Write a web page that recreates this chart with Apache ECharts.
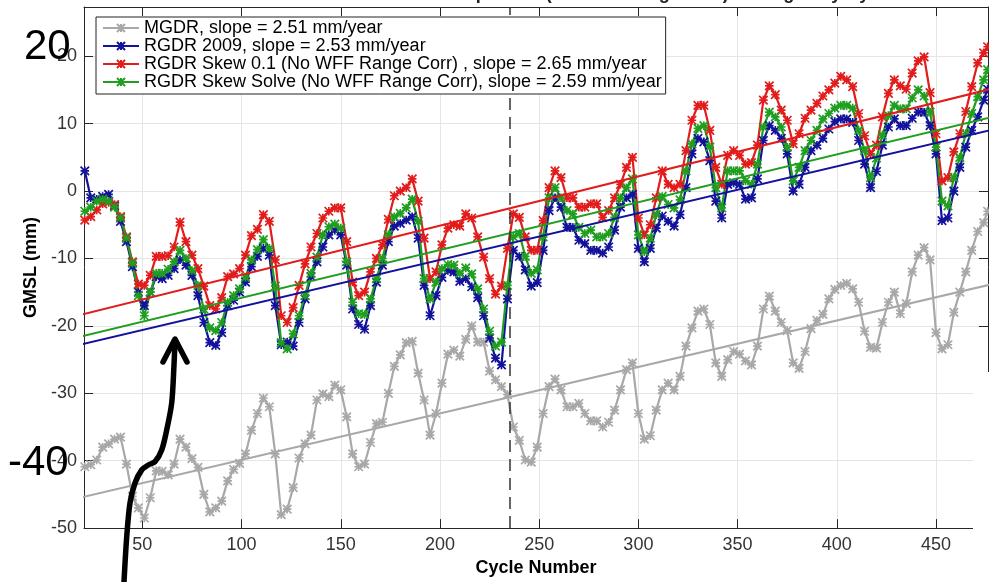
<!DOCTYPE html>
<html><head><meta charset="utf-8">
<script src="https://cdn.jsdelivr.net/npm/echarts@6/dist/echarts.min.js"></script>
<style>html,body{margin:0;padding:0;background:#fff}#c{width:989px;height:582px}</style>
</head><body><div id="c"></div>
<script>
const cycles = [21,24,27,30,33,36,39,42,45,48,51,54,57,60,63,66,69,72,75,78,81,84,87,90,93,96,99,102,105,108,111,114,117,120,123,126,129,132,135,138,141,144,147,150,153,156,159,162,165,168,171,174,177,180,183,186,189,192,195,198,201,204,207,210,213,216,219,222,225,228,231,234,237,240,243,246,249,252,255,258,261,264,267,270,273,276,279,282,285,288,291,294,297,300,303,306,309,312,315,318,321,324,327,330,333,336,339,342,345,348,351,354,357,360,363,366,369,372,375,378,381,384,387,390,393,396,399,402,405,408,411,414,417,420,423,426,429,432,435,438,441,444,447,450,453,456,459,462,465,468,471,474,476];
const mgdr = [-40.9,-40.6,-39.9,-38.0,-37.5,-36.8,-36.5,-40.5,-45.3,-47.0,-48.5,-45.5,-41.5,-41.6,-42.1,-40.5,-36.8,-38.0,-39.7,-41.0,-45.0,-47.6,-47.0,-46.0,-43.0,-41.3,-40.4,-39.0,-35.5,-33.0,-30.7,-32.0,-39.0,-48.0,-47.2,-44.0,-39.6,-37.5,-36.2,-31.0,-30.1,-30.5,-28.8,-29.5,-33.5,-39.0,-40.9,-40.5,-37.3,-34.5,-34.3,-30.0,-26.0,-24.3,-22.5,-22.3,-27.0,-31.0,-36.2,-33.0,-28.5,-24.2,-23.6,-24.5,-22.0,-20.0,-22.4,-22.4,-26.7,-28.0,-29.0,-30.2,-35.0,-37.0,-39.9,-40.2,-38.0,-33.0,-29.0,-27.9,-29.5,-32.0,-32.0,-31.5,-33.0,-34.1,-34.1,-35.0,-34.3,-32.5,-29.5,-26.5,-25.5,-33.0,-36.8,-36.3,-32.5,-29.5,-28.5,-29.5,-27.5,-23.0,-20.3,-17.8,-17.5,-19.8,-25.5,-27.5,-25.0,-23.8,-24.2,-25.2,-25.8,-23.0,-17.5,-15.6,-17.8,-19.5,-20.7,-25.5,-26.3,-23.8,-20.4,-19.2,-18.3,-16.0,-14.6,-14.0,-13.7,-14.5,-16.5,-20.8,-23.2,-23.3,-19.5,-16.5,-15.0,-18.2,-16.7,-12.0,-9.5,-8.4,-10.2,-21.0,-23.4,-22.8,-18.0,-15.0,-12.0,-8.8,-6.0,-4.7,-3.0];
const rgdr2009 = [3.0,-1.0,-1.2,-0.8,-0.5,-2.2,-4.5,-7.5,-11.2,-15.0,-17.0,-15.0,-12.7,-13.0,-12.5,-11.5,-10.2,-11.0,-12.5,-15.5,-19.5,-22.5,-22.9,-21.0,-17.0,-16.2,-15.0,-13.5,-11.2,-9.7,-8.5,-9.5,-17.0,-22.8,-22.4,-23.0,-19.5,-16.0,-12.7,-10.5,-8.3,-6.5,-5.8,-6.5,-11.0,-17.5,-19.8,-20.5,-17.0,-13.5,-11.0,-7.5,-5.2,-4.8,-4.3,-3.8,-7.0,-14.0,-18.5,-15.5,-12.8,-11.8,-12.0,-13.4,-13.0,-14.2,-15.8,-18.5,-21.8,-24.8,-25.8,-16.0,-8.8,-9.7,-11.7,-14.1,-13.6,-8.8,-2.9,-1.0,-2.4,-5.4,-5.4,-7.3,-7.8,-8.8,-8.8,-9.2,-8.3,-5.8,-2.4,-1.0,-0.5,-8.5,-10.5,-8.5,-5.5,-3.7,-4.5,-5.2,-3.5,0.5,5.5,7.8,7.3,4.5,-1.5,-4.0,1.0,1.2,1.0,-1.2,-1.0,1.8,7.5,9.7,9.0,7.8,5.5,0.0,1.0,3.5,6.0,6.8,7.8,9.2,10.3,10.7,10.7,10.2,7.5,4.0,0.5,2.9,6.8,9.5,10.7,9.7,9.7,10.8,11.7,11.7,9.7,5.5,-4.4,-4.0,0.0,3.5,6.5,9.0,11.0,13.5,15.1];
const skew01 = [-4.3,-3.8,-2.8,-1.9,-1.7,-2.0,-3.8,-6.8,-10.5,-13.8,-14.0,-12.5,-9.7,-9.7,-9.6,-8.3,-4.6,-7.5,-9.5,-11.5,-14.1,-17.0,-17.5,-15.8,-12.7,-12.3,-11.5,-9.5,-6.6,-5.7,-3.5,-4.5,-10.2,-18.5,-19.5,-17.3,-14.0,-10.8,-8.3,-6.3,-4.0,-3.0,-2.5,-2.5,-7.5,-13.5,-15.5,-15.0,-12.0,-10.0,-8.0,-4.2,-0.7,0.0,0.5,1.8,-1.5,-7.0,-13.0,-12.0,-8.0,-5.5,-5.0,-5.2,-3.4,-4.0,-6.8,-9.8,-13.0,-15.3,-14.1,-8.5,-3.4,-3.9,-6.8,-8.8,-8.8,-4.4,0.5,3.0,2.0,-1.0,-1.0,-2.4,-2.4,-1.9,-1.9,-3.9,-2.9,-1.0,1.0,3.5,5.0,-4.0,-6.5,-5.0,-1.0,3.0,1.0,0.5,1.0,6.0,10.5,12.7,12.7,9.0,3.5,1.0,5.3,6.0,5.3,4.0,4.2,6.8,13.5,15.6,14.3,12.0,10.5,7.0,8.5,10.8,12.0,13.0,14.1,15.0,16.0,17.0,16.5,15.5,11.5,8.2,5.5,6.8,11.0,14.5,16.5,15.6,15.1,17.5,19.3,19.9,14.6,8.5,1.5,2.0,5.8,8.5,11.8,15.5,19.0,20.5,21.4];
const skewSolve = [-3.0,-2.4,-1.5,-1.2,-1.5,-2.4,-4.0,-7.0,-10.7,-15.5,-18.5,-15.0,-12.2,-12.2,-11.6,-10.5,-8.8,-10.0,-11.8,-14.0,-17.5,-20.3,-20.7,-19.5,-16.5,-15.5,-14.5,-12.8,-10.2,-8.7,-7.2,-8.5,-14.1,-22.5,-23.4,-21.2,-18.5,-15.5,-12.2,-9.8,-6.5,-5.3,-4.9,-5.5,-10.5,-16.5,-18.2,-18.3,-16.0,-13.0,-10.0,-6.5,-3.8,-3.3,-2.5,-1.2,-4.5,-13.0,-16.0,-13.5,-11.5,-10.9,-11.0,-12.2,-11.4,-12.3,-14.5,-17.5,-20.8,-23.0,-22.4,-14.0,-6.8,-6.3,-9.7,-12.2,-11.7,-6.8,-1.0,0.5,-1.0,-2.9,-3.4,-5.4,-6.3,-5.8,-6.8,-6.8,-6.3,-3.9,-1.0,0.5,1.8,-6.5,-9.0,-7.0,-3.5,-0.8,-2.0,-2.5,-1.3,3.0,7.0,9.3,9.7,6.5,0.5,-2.5,3.0,3.0,3.0,1.5,1.0,4.0,9.5,11.7,11.0,9.5,6.5,1.5,3.5,6.0,7.5,9.0,10.7,11.5,12.3,12.7,12.7,12.3,9.0,6.0,2.0,4.9,8.3,11.2,12.7,12.2,12.2,13.8,15.0,14.1,11.7,6.5,-1.5,-2.2,2.0,5.0,8.5,11.5,14.0,16.5,18.0];
const trendCycles = [20, 477];
const trendMgdr = [-45.4, -13.9];
const trendRgdr2009 = [-22.7, 9.0];
const trendSkew01 = [-18.3, 15.1];
const trendSkewSolve = [-21.5, 10.9];
const seriesNames = ['MGDR, slope = 2.51 mm/year','RGDR 2009, slope = 2.53 mm/year','RGDR Skew 0.1 (No WFF Range Corr) , slope = 2.65 mm/year','RGDR Skew Solve (No WFF Range Corr), slope = 2.59 mm/year'];
const dividerCycle = 235;
const xRange = [20.6, 476.2];
const yRange = [-50, 27.3];

const FONT = "'Liberation Sans', Arial, Helvetica, sans-serif";
const colors = ['#a8a8a8', '#12129c', '#e21b1b', '#1f9e1f'];
const SYM = 'path://M0,0L10,10M10,0L0,10M5,0L5,10M0,5L10,5';
const pairs = (xs, ys) => xs.map((x, i) => [x, ys[i]]);
function dataSeries(name, vals, color) {
  return {type:'line', name, data: pairs(cycles, vals), symbol: SYM, symbolSize: 8.5, showAllSymbol: true,
    lineStyle:{color, width:2.2}, itemStyle:{color, borderColor: color, borderWidth: 1.7}, emphasis:{disabled:true}, z: 2};
}
function trendSeries(vals, color) {
  return {type:'line', name:'trend', data: pairs(trendCycles, vals), symbol:'none', lineStyle:{color, width:2}, emphasis:{disabled:true}, z: 3};
}
const s0 = dataSeries(seriesNames[0], mgdr, colors[0]);
s0.markLine = {symbol:'none', silent:true, label:{show:false}, lineStyle:{color:'#333', type:[12,7], width:1.5}, data:[{xAxis: dividerCycle}]};

const chart = echarts.init(document.getElementById('c'), null, {renderer:'canvas'});
const axisCol = '#262626';
chart.setOption({
  animation:false,
  backgroundColor:'#fff',
  textStyle:{fontFamily:FONT},
  grid:{left:84, right:1, top:7, bottom:46, containLabel:false},
  legend:{data: seriesNames, orient:'vertical', left:96, top:17, itemGap:0, itemWidth:36, itemHeight:10,
    backgroundColor:'#fff', borderColor:'#222', borderWidth:1, padding:[2,4,3,6], z:20,
    textStyle:{fontSize:18, color:'#000', lineHeight:18, fontFamily:FONT}},
  xAxis:[
    {type:'value', position:'bottom', min:xRange[0], max:xRange[1], minInterval:50, maxInterval:50,
     axisLine:{show:true, onZero:false, lineStyle:{color:axisCol, width:1}},
     axisTick:{show:true, inside:true, length:9, lineStyle:{color:axisCol}},
     axisLabel:{showMinLabel:false, showMaxLabel:false, fontSize:18, color:'#333', margin:8, fontFamily:FONT},
     splitLine:{show:true, lineStyle:{color:'#e5e5e5', width:1}},
     name:'Cycle Number', nameLocation:'middle', nameGap:27,
     nameTextStyle:{fontSize:18, fontWeight:'bold', color:'#000', fontFamily:FONT}},
    {type:'value', position:'top', min:xRange[0], max:xRange[1], minInterval:50, maxInterval:50,
     axisLine:{show:true, onZero:false, lineStyle:{color:axisCol, width:1}},
     axisTick:{show:true, inside:true, length:9, lineStyle:{color:axisCol}},
     axisLabel:{show:false}, splitLine:{show:false}}
  ],
  yAxis:[
    {type:'value', position:'left', min:yRange[0], max:yRange[1], interval:10,
     axisLine:{show:true, onZero:false, lineStyle:{color:axisCol, width:1}},
     axisTick:{show:true, inside:true, length:9, lineStyle:{color:axisCol}},
     axisLabel:{showMaxLabel:false, fontSize:18, color:'#333', margin:7, fontFamily:FONT},
     splitLine:{show:true, lineStyle:{color:'#e5e5e5', width:1}},
     name:'GMSL (mm)', nameLocation:'middle', nameGap:36, nameRotate:90,
     nameTextStyle:{fontSize:18, fontWeight:'bold', color:'#000', fontFamily:FONT}},
    {type:'value', position:'right', min:yRange[0], max:yRange[1], interval:10,
     axisLine:{show:true, onZero:false, lineStyle:{color:axisCol, width:1}},
     axisTick:{show:true, inside:true, length:9, lineStyle:{color:axisCol}},
     axisLabel:{show:false}, splitLine:{show:false}}
  ],
  series:[
    s0,
    dataSeries(seriesNames[1], rgdr2009, colors[1]),
    dataSeries(seriesNames[2], skew01, colors[2]),
    dataSeries(seriesNames[3], skewSolve, colors[3]),
    trendSeries(trendMgdr, colors[0]),
    trendSeries(trendRgdr2009, colors[1]),
    trendSeries(trendSkew01, colors[2]),
    trendSeries(trendSkewSolve, colors[3])
  ],
  graphic:[
    {type:'text', z:50, style:{text:'Jason-1 GMSL Comparison (No WFF Range Corr) Averaged by Cycle', x:600, y:-15, textAlign:'center', textVerticalAlign:'top', font:"bold 18px 'Liberation Sans', Arial, sans-serif", fill:'#222'}},
    {type:'rect', z:50, shape:{x:973, y:372, width:16, height:210}, style:{fill:'#fff'}},
    {type:'text', z:60, style:{text:'20', x:24, y:47, textVerticalAlign:'middle', font:"42px 'Liberation Sans', Arial, sans-serif", fill:'#000'}},
    {type:'text', z:60, style:{text:'-40', x:8, y:463, textVerticalAlign:'middle', font:"42px 'Liberation Sans', Arial, sans-serif", fill:'#000'}},
    {type:'polyline', z:60, shape:{points:[[124,582],[126.7,537],[130,503],[135,483],[141.7,470],[148.3,465],[155,461.7],[161.7,450],[166.7,430],[171.7,403],[174,365],[175,341]], smooth:0.3},
     style:{stroke:'#000', lineWidth:5.5, fill:null, lineCap:'round', lineJoin:'round'}},
    {type:'polyline', z:60, shape:{points:[[163,362],[175,339],[187,362]]},
     style:{stroke:'#000', lineWidth:5.5, fill:null, lineCap:'round', lineJoin:'round'}}
  ]
});
</script></body></html>
